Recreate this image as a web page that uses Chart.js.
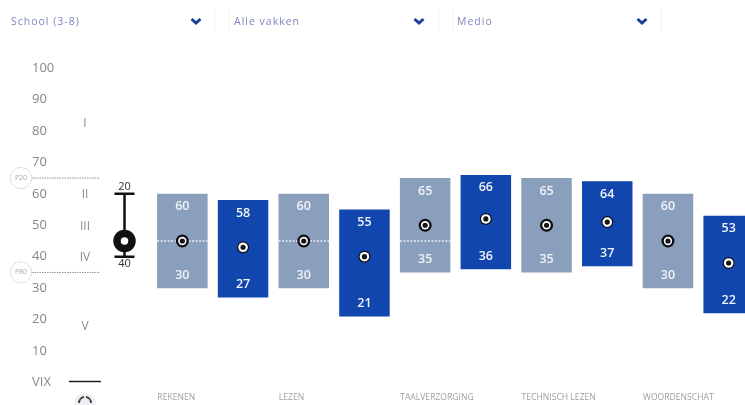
<!DOCTYPE html>
<html lang="nl">
<head>
<meta charset="UTF-8">
<title>Vaardigheidsscores</title>
<script src="https://cdn.jsdelivr.net/npm/chart.js"></script>
<style>
    html, body { margin: 0; padding: 0; width: 745px; height: 405px; overflow: hidden; background: #fff; }
    #chart { position: absolute; left: 0; top: 0; }
    .filter { position: absolute; top: 14px; font: 10.5px "Open Sans", sans-serif; letter-spacing: 1px; color: #7f86bd; }
    .chevron { position: absolute; top: 17px; }
    .sep { position: absolute; top: 8px; height: 25px; width: 1px; background: #f3f3f3; }
</style>
</head>
<body>
<canvas id="chart" width="770" height="405"></canvas>
<div class="filter" style="left:11px">School (3-8)</div>
<div class="filter" style="left:234px">Alle vakken</div>
<div class="filter" style="left:457px">Medio</div>
<svg class="chevron" style="left:190px" width="12" height="8"><polyline points="1.5,2 6,6 10.5,2" fill="none" stroke="#1a3f9c" stroke-width="3"/></svg>
<svg class="chevron" style="left:413px" width="12" height="8"><polyline points="1.5,2 6,6 10.5,2" fill="none" stroke="#1a3f9c" stroke-width="3"/></svg>
<svg class="chevron" style="left:636px" width="12" height="8"><polyline points="1.5,2 6,6 10.5,2" fill="none" stroke="#1a3f9c" stroke-width="3"/></svg>
<div class="sep" style="left:214px"></div>
<div class="sep" style="left:228px"></div>
<div class="sep" style="left:438px"></div>
<div class="sep" style="left:452px"></div>
<div class="sep" style="left:661px"></div>
<script>
    // two bars per subject: school (grey) then comparison (blue)
    const categories = ['REKENEN', 'REKENEN', 'LEZEN', 'LEZEN', 'TAALVERZORGING', 'TAALVERZORGING',
        'TECHNISCH LEZEN', 'TECHNISCH LEZEN', 'WOORDENSCHAT', 'WOORDENSCHAT'];
    const highValues = [60, 58, 60, 55, 65, 66, 65, 64, 60, 53];
    const lowValues = [30, 27, 30, 21, 35, 36, 35, 37, 30, 22];
    const markerValues = [45, 43, 45, 40, 50, 52, 50, 51, 45, 38];
    const medianValues = [45, null, 45, null, 45, null, null, null, null, null];

    const yTickLabels = { 0: 'VIX' };
    const romanLabels = ['I', 'II', 'III', 'IV', 'V'];
    const romanValues = [82.5, 60, 50, 40, 18];
    const percentileLabels = ['P20', 'P80'];
    const percentileValues = [65, 35];
    const keyTop = 60;
    const keyMid = 45;
    const keyBottom = 40;
    const keyTopLabel = '20';
    const keyBottomLabel = '40';

    const GREY = '#8a9fbc';
    const BLUE = '#1046ae';
    const isGrey = i => i % 2 === 0;

    const overlay = {
        id: 'overlay',
        afterDatasetDraw(chart, args) {
            // dotted median sits on the bars but under the markers
            if (args.index !== 0) return;
            const ctx = chart.ctx;
            const bars = chart.getDatasetMeta(0).data;
            ctx.save();
            ctx.strokeStyle = '#e6ecf4';
            ctx.lineWidth = 1.5;
            ctx.setLineDash([2, 1.5]);
            medianValues.forEach((v, i) => {
                if (v === null) return;
                const y = chart.scales.y.getPixelForValue(v);
                ctx.beginPath();
                ctx.moveTo(bars[i].x - bars[i].width / 2, y);
                ctx.lineTo(bars[i].x + bars[i].width / 2, y);
                ctx.stroke();
            });
            ctx.restore();
        },
        afterDatasetsDraw(chart) {
            const ctx = chart.ctx;
            const y = chart.scales.y;
            const bars = chart.getDatasetMeta(0).data;
            ctx.save();
            ctx.textAlign = 'center';
            ctx.textBaseline = 'middle';

            // values inside the bars
            ctx.font = '600 12.5px "Open Sans", sans-serif';
            ctx.fillStyle = '#f0f3f8';
            bars.forEach((bar, i) => {
                ctx.fillText(highValues[i], bar.x, y.getPixelForValue(highValues[i]) + 13);
                ctx.fillText(lowValues[i], bar.x, y.getPixelForValue(lowValues[i]) - 13);
            });

            // roman level labels
            ctx.font = '12px "Open Sans", sans-serif';
            ctx.fillStyle = '#8c8c8c';
            romanLabels.forEach((t, i) => ctx.fillText(t, 85, y.getPixelForValue(romanValues[i]) + 1));

            // P20 / P80 lines with their little circles
            percentileLabels.forEach((t, i) => {
                const py = y.getPixelForValue(percentileValues[i]);
                ctx.strokeStyle = '#8f8f8f';
                ctx.lineWidth = 1;
                ctx.setLineDash([1.5, 1]);
                ctx.beginPath();
                ctx.moveTo(32, py);
                ctx.lineTo(100, py);
                ctx.stroke();
                ctx.strokeStyle = '#c4c4c4';
                ctx.beginPath();
                ctx.arc(21, py, 10.5, 0, Math.PI * 2);
                ctx.stroke();
                ctx.setLineDash([]);
                ctx.font = '7px "Open Sans", sans-serif';
                ctx.fillStyle = '#a8a8a8';
                ctx.fillText(t, 21, py);
            });

            // VIX line
            ctx.strokeStyle = '#222';
            ctx.lineWidth = 1.5;
            ctx.beginPath();
            ctx.moveTo(69, y.getPixelForValue(0) - 1);
            ctx.lineTo(101, y.getPixelForValue(0) - 1);
            ctx.stroke();

            // key glyph left of the bars
            const kx = 124.5;
            const kt = y.getPixelForValue(keyTop);
            const km = y.getPixelForValue(keyMid);
            const kb = y.getPixelForValue(keyBottom);
            ctx.strokeStyle = '#111';
            ctx.lineWidth = 2.5;
            ctx.beginPath();
            ctx.moveTo(kx, kt);
            ctx.lineTo(kx, kb);
            ctx.moveTo(kx - 10, kt);
            ctx.lineTo(kx + 10, kt);
            ctx.moveTo(kx - 10, kb);
            ctx.lineTo(kx + 10, kb);
            ctx.stroke();
            ctx.fillStyle = '#fff';
            ctx.lineWidth = 7.5;
            ctx.beginPath();
            ctx.arc(kx, km, 7.5, 0, Math.PI * 2);
            ctx.fill();
            ctx.stroke();
            ctx.font = '11px "Open Sans", sans-serif';
            ctx.fillStyle = '#333';
            ctx.fillText(keyTopLabel, kx, kt - 7);
            ctx.fillText(keyBottomLabel, kx, kb + 7);

            // icon cut off by the bottom edge
            ctx.fillStyle = '#eef0f3';
            ctx.beginPath();
            ctx.arc(85, 404, 11, 0, Math.PI * 2);
            ctx.fill();
            ctx.strokeStyle = '#444';
            ctx.lineWidth = 2;
            ctx.beginPath();
            ctx.arc(85, 403, 6, Math.PI * 1.0, Math.PI * 1.45);
            ctx.stroke();
            ctx.beginPath();
            ctx.arc(85, 403, 6, Math.PI * 1.55, Math.PI * 2);
            ctx.stroke();
            ctx.restore();
        }
    };

    new Chart(document.getElementById('chart'), {
        data: {
            labels: categories,
            datasets: [
                {
                    type: 'bar',
                    order: 4,
                    data: highValues.map((h, i) => [lowValues[i], h]),
                    backgroundColor: highValues.map((h, i) => isGrey(i) ? GREY : BLUE),
                    barPercentage: 0.832,
                    categoryPercentage: 1
                },
                {
                    type: 'line',
                    order: 3,
                    data: markerValues,
                    showLine: false,
                    pointRadius: markerValues.map((v, i) => isGrey(i) ? 6.5 : 6),
                    pointBorderWidth: 0,
                    pointBackgroundColor: '#0d0d12'
                },
                {
                    type: 'line',
                    order: 2,
                    data: markerValues,
                    showLine: false,
                    pointRadius: markerValues.map((v, i) => isGrey(i) ? 4.2 : 4.8),
                    pointBorderWidth: 0,
                    pointBackgroundColor: '#fff'
                },
                {
                    type: 'line',
                    order: 1,
                    data: markerValues,
                    showLine: false,
                    pointRadius: 2.6,
                    pointBorderWidth: 0,
                    pointBackgroundColor: '#15151a'
                }
            ]
        },
        options: {
            responsive: false,
            animation: false,
            layout: { padding: { left: 32, right: 11, top: 68, bottom: 0 } },
            plugins: { legend: { display: false }, tooltip: { enabled: false } },
            scales: {
                x: {
                    grid: { display: false },
                    border: { display: false },
                    afterFit(scale) { scale.height = 22.5; },
                    ticks: {
                        autoSkip: false,
                        maxRotation: 0,
                        align: 'start',
                        labelOffset: -25,
                        padding: 2,
                        color: '#a0a0a0',
                        font: { family: '"Open Sans", sans-serif', size: 8.6 },
                        callback(value, index) { return isGrey(index) ? categories[index] : ''; }
                    }
                },
                y: {
                    min: 0,
                    max: 100,
                    grid: { display: false },
                    border: { display: false },
                    afterFit(scale) { scale.width = 120; },
                    ticks: {
                        stepSize: 10,
                        crossAlign: 'far',
                        color: '#868686',
                        font: { family: '"Open Sans", sans-serif', size: 13 },
                        callback(value) { return yTickLabels[value] || value; }
                    }
                }
            }
        },
        plugins: [overlay]
    });
</script>
</body>
</html>
